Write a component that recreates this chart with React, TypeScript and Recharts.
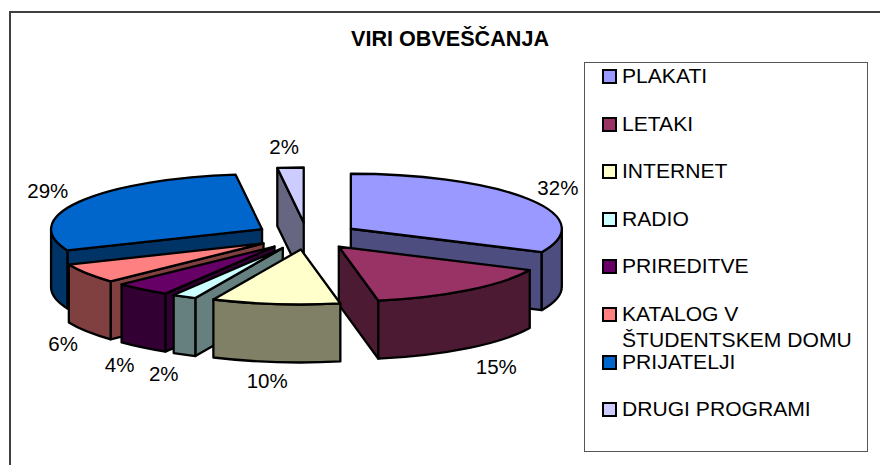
import React from "react";
import { PieChart, Pie, Legend } from "recharts";

const names = ["PLAKATI", "LETAKI", "INTERNET", "RADIO", "PRIREDITVE", "KATALOG V ŠTUDENTSKEM DOMU", "PRIJATELJI", "DRUGI PROGRAMI"];
const shares = [32, 15, 9.8, 1.85, 4.25, 5.8, 29.3, 2];
const topColors = ["#9999FF", "#993366", "#FFFFCC", "#CCFFFF", "#660066", "#FF8080", "#0066CC", "#CCCCFF"];
const sideColors = ["#4D4D80", "#4D1A33", "#808066", "#668080", "#330033", "#804040", "#003366", "#666680"];
const paintOrder = ["PLAKATI", "DRUGI PROGRAMI", "PRIJATELJI", "KATALOG V ŠTUDENTSKEM DOMU", "PRIREDITVE", "RADIO", "LETAKI", "INTERNET"];
// small hand adjustments of the percent labels [dx, dy], keyed by slice
const labelNudge: Record<string, [number, number]> = {
  PLAKATI: [-3, 0],
  LETAKI: [5, 1],
  INTERNET: [-4, -3],
  RADIO: [-3, 0],
  PRIREDITVE: [1, 0],
  "KATALOG V ŠTUDENTSKEM DOMU": [8, 0],
  PRIJATELJI: [1, 0],
  "DRUGI PROGRAMI": [-4, 1],
};

const table = names.map((name, i) => ({ name, value: shares[i], fill: topColors[i], side: sideColors[i] }));

const CX = 307;
const CY = 236;
const RX = 211;
const TILT = 55 / 211;
const DEPTH = 58;
const EXPLODE = 0.246;
const FONT = "'Liberation Sans', Arial, sans-serif";

const rad = (d: number) => (d * Math.PI) / 180;

function Slice(props: any) {
  const { cx, cy, outerRadius, startAngle, endAngle, fill, payload } = props;
  const rx = outerRadius;
  const ry = outerRadius * TILT;
  // clockwise-from-top angles
  const a1 = 90 - startAngle;
  const a2 = 90 - endAngle;
  const mid = (a1 + a2) / 2;
  const ox = cx + Math.sin(rad(mid)) * rx * EXPLODE;
  const oy = cy - Math.cos(rad(mid)) * ry * EXPLODE;
  const pt = (a: number, dz = 0) => [ox + Math.sin(rad(a)) * rx, oy - Math.cos(rad(a)) * ry + dz];
  const arc = (from: number, to: number, dz = 0, reverse = false) => {
    const [x, y] = pt(to, dz);
    return `A${rx} ${ry} 0 ${Math.abs(to - from) > 180 ? 1 : 0} ${reverse ? 0 : 1} ${x} ${y}`;
  };
  const side = payload?.side ?? props.side;
  const stroke = { stroke: "#000", strokeWidth: 2.3, strokeLinejoin: "round" as const };
  const radial = (a: number) => {
    const [x, y] = pt(a);
    return `M${ox} ${oy}L${x} ${y}L${x} ${y + DEPTH}L${ox} ${oy + DEPTH}Z`;
  };
  const w1 = Math.max(a1, 90);
  const w2 = Math.min(a2, 270);
  const [tx, ty] = pt(a1);
  const [wx1, wy1] = pt(w1);
  const [wx2, wy2] = pt(w2);
  return (
    <g>
      {Math.sin(rad(a1)) < -1e-6 && <path d={radial(a1)} fill={side} {...stroke} />}
      {Math.sin(rad(a2)) > 1e-6 && <path d={radial(a2)} fill={side} {...stroke} />}
      {w2 > w1 && (
        <path
          d={`M${wx1} ${wy1}${arc(w1, w2)}L${wx2} ${wy2 + DEPTH}${arc(w2, w1, DEPTH, true)}Z`}
          fill={side}
          {...stroke}
        />
      )}
      <path d={`M${ox} ${oy}L${tx} ${ty}${arc(a1, a2)}Z`} fill={fill} {...stroke} />
    </g>
  );
}

function percentLabel(props: any) {
  const { cx, cy, outerRadius, midAngle, percent, name } = props;
  const a = 90 - midAngle;
  const front = Math.cos(rad(a)) < 0;
  const [dx, dy] = labelNudge[name] ?? [0, 0];
  const x = cx + Math.sin(rad(a)) * outerRadius * 1.425 + dx;
  const y = cy - Math.cos(rad(a)) * outerRadius * TILT * 1.64 + (front ? DEPTH : 0) + dy;
  return (
    <text x={x} y={y} textAnchor="middle" dominantBaseline="central" fontSize={20.5} fontFamily={FONT} fill="#000">
      {`${Math.round(percent * 100)}%`}
    </text>
  );
}

function LegendBox() {
  return (
    <div
      style={{
        position: "absolute",
        left: 584,
        top: 62,
        width: 284,
        height: 390,
        boxSizing: "border-box",
        border: "1px solid #555",
        background: "#fff",
        fontFamily: FONT,
        fontSize: 21.1,
        lineHeight: "26px",
        color: "#000",
      }}
    >
      <div style={{ position: "absolute", left: 17, top: 0 }}>
        {table.map((it) => (
          <div key={it.name} style={{ position: "relative", height: 47.6, paddingLeft: 20, width: 262, boxSizing: "border-box" }}>
            <span
              style={{
                position: "absolute",
                left: 0,
                top: 6,
                width: 15,
                height: 15,
                boxSizing: "border-box",
                border: "2px solid #000",
                background: it.fill,
              }}
            />
            <div style={{ whiteSpace: "normal" }}>{it.name}</div>
          </div>
        ))}
      </div>
    </div>
  );
}

export default function App() {
  return (
    <div style={{ position: "absolute", left: 0, top: 0, width: 880, height: 465, background: "#fff", overflow: "hidden" }}>
      <div style={{ position: "absolute", left: 9, top: 11, width: 900, height: 600, boxSizing: "border-box", border: "2px solid #404040" }} />
      <div
        style={{
          position: "absolute",
          left: 250,
          width: 400,
          top: 26,
          textAlign: "center",
          fontFamily: FONT,
          fontWeight: 700,
          fontSize: 21.6,
          lineHeight: "26px",
          color: "#000",
        }}
      >
        VIRI OBVEŠČANJA
      </div>
      <PieChart width={880} height={465} margin={{ top: 0, right: 0, bottom: 0, left: 0 }} style={{ position: "absolute", left: 0, top: 0 }}>
        {paintOrder.map((n, i) => (
          <Pie
            key={n}
            data={table}
            dataKey="value"
            nameKey="name"
            cx={CX}
            cy={CY}
            outerRadius={RX}
            startAngle={90}
            endAngle={-270}
            isAnimationActive={false}
            legendType="none"
            stroke="none"
            label={i === paintOrder.length - 1 ? percentLabel : false}
            labelLine={false}
            shape={(p: any) => (p.name === n ? <Slice {...p} /> : <g />)}
          />
        ))}
        <Legend
          content={() => <LegendBox />}
          wrapperStyle={{ position: "absolute", left: 0, top: 0, width: 880, height: 465 }}
        />
      </PieChart>
    </div>
  );
}
